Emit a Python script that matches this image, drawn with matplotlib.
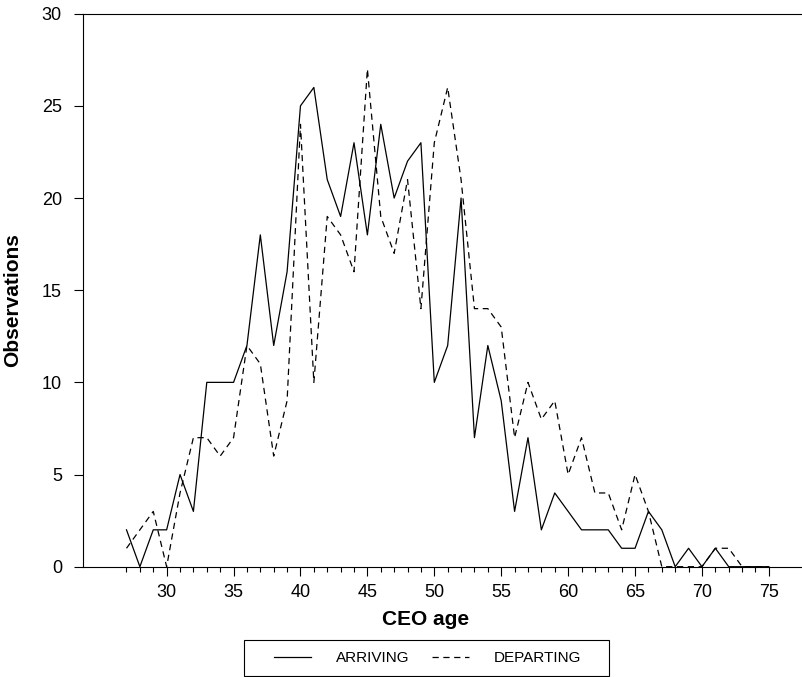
import matplotlib
matplotlib.use("Agg")
from matplotlib import pyplot as plt
from matplotlib.patches import Rectangle
import numpy as np

plt.rcParams['font.family'] = ['Liberation Sans', 'DejaVu Sans']
plt.rcParams['lines.scale_dashes'] = False

ages = np.arange(27, 76)
arriving = [2, 0, 2, 2, 5, 3, 10, 10, 10, 12, 18, 12, 16, 25, 26, 21, 19, 23, 18, 24,
            20, 22, 23, 10, 12, 20, 7, 12, 9, 3, 7, 2, 4, 3, 2, 2, 2, 1, 1, 3,
            2, 0, 1, 0, 1, 0, 0, 0, 0]
departing = [1, 2, 3, 0, 4, 7, 7, 6, 7, 12, 11, 6, 9, 24, 10, 19, 18, 16, 27, 19,
             17, 21, 14, 23, 26, 21, 14, 14, 13, 7, 10, 8, 9, 5, 7, 4, 4, 2, 5, 3,
             0, 0, 0, 0, 1, 1, 0, 0, 0]
series_names = ["ARRIVING", "DEPARTING"]
x_major = [30, 35, 40, 45, 50, 55, 60, 65, 70, 75]
y_major = [0, 5, 10, 15, 20, 25, 30]

fig = plt.figure(figsize=(8.03, 6.77), dpi=100)
ax = fig.add_axes([83 / 803, (677 - 566.7) / 677, 720 / 803, 553 / 677])

ax.plot(ages, arriving, color='black', lw=0.9, label=series_names[0])
ax.plot(ages, departing, color='black', lw=0.9, linestyle=(0, (4.5, 3.3)), label=series_names[1])

ax.set_xlim(23.75, 77.55)
ax.set_ylim(0, 30)
ax.spines['right'].set_visible(False)
for s in ['left', 'top', 'bottom']:
    ax.spines[s].set_linewidth(0.8)

ax.set_xticks(x_major)
ax.set_xticks([a for a in range(27, 76) if a % 5 != 0], minor=True)
ax.set_yticks(y_major)
ax.tick_params(axis='x', which='major', length=6.7, width=0.8, pad=6, labelsize=13)
ax.tick_params(axis='x', which='minor', length=3.6, width=0.8)
ax.tick_params(axis='y', which='major', length=6.7, width=0.8, pad=8.5, labelsize=13)

ax.set_xlabel("CEO age", fontsize=15, fontweight='bold')
ax.xaxis.set_label_coords(0.476, -0.078)
ax.set_ylabel("Observations", fontsize=15, fontweight='bold')
ax.yaxis.set_label_coords(-0.085, 0.482)

fig.legend(loc='center', bbox_to_anchor=(427.5 / 803, 19 / 677), ncol=2,
           frameon=False, fontsize=11, handlelength=2.42, handletextpad=1.64,
           columnspacing=1.44, borderpad=0)
fig.add_artist(Rectangle((244 / 803, 1 / 677), 365 / 803, 36 / 677,
                         transform=fig.transFigure, fill=False, lw=0.8, ec='black'))

fig.savefig("out.png", dpi=100)
